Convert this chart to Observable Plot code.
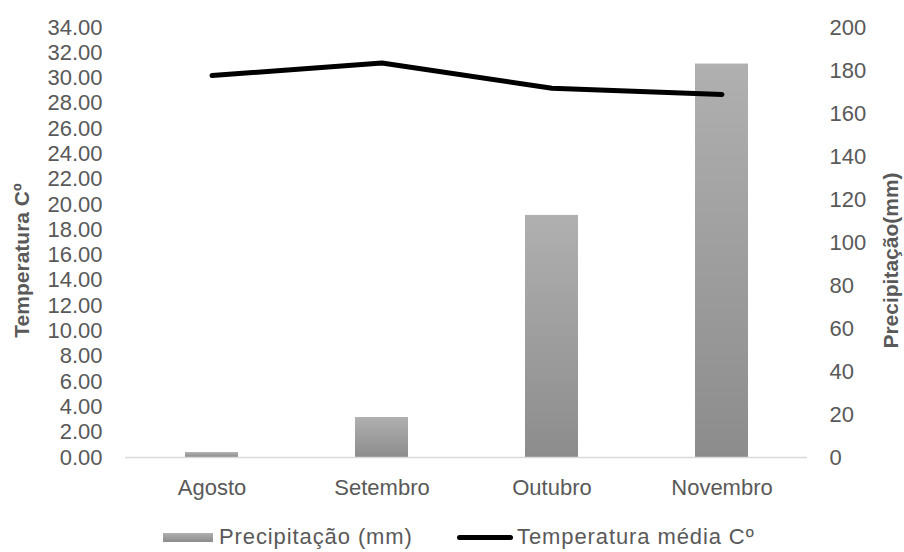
<!DOCTYPE html>
<html>
<head>
<meta charset="utf-8">
<script src="https://cdn.jsdelivr.net/npm/d3@7"></script>
<script src="https://cdn.jsdelivr.net/npm/@observablehq/plot@0.6"></script>
<style>
  body { margin: 0; background: #fff; font-family: "Liberation Sans", Arial, sans-serif; }
  #chart { position: relative; width: 904px; height: 552px; background: #fff; }
  #chart svg { display: block; }
  .legend-item { position: absolute; color: #595959; font-size: 22px; line-height: 22px; white-space: nowrap; letter-spacing: 0.9px; }
  .swatch { position: absolute; }
</style>
</head>
<body>
<div id="chart"></div>
<script>
// Monthly data
const months = ["Agosto", "Setembro", "Outubro", "Novembro"];
const precipitation = [2.3, 18.6, 112.6, 183.0];   // mm
const temperature = [30.2, 31.2, 29.2, 28.7];       // °C (média)

// Axis ticks
const tempTicks = [0, 2, 4, 6, 8, 10, 12, 14, 16, 18, 20, 22, 24, 26, 28, 30, 32, 34];
const precipTicks = [0, 20, 40, 60, 80, 100, 120, 140, 160, 180, 200];

const tempMax = 34;
const precipMax = 200;
// The plot's y scale is in mm; temperatures are mapped onto it for the left axis.
const toPrecip = t => t * precipMax / tempMax;

const rows = months.map((m, i) => ({month: m, precip: precipitation[i], temp: temperature[i]}));

const plot = Plot.plot({
  width: 904,
  height: 515,
  marginLeft: 125,
  marginRight: 97,
  marginTop: 27,
  marginBottom: 58,
  style: {fontFamily: "'Liberation Sans', Arial, sans-serif", fontSize: "22px", color: "#595959", background: "white", overflow: "visible"},
  x: {domain: months, type: "band", paddingInner: 0.69, paddingOuter: 0.345, axis: null},
  y: {domain: [0, precipMax], axis: null},
  marks: [
    Plot.barY(rows, {x: "month", y: "precip", fill: "url(#precipFill)"}),
    Plot.ruleY([0], {stroke: "#d9d9d9", strokeWidth: 1.5}),
    Plot.lineY(rows, {x: "month", y: d => toPrecip(d.temp), stroke: "black", strokeWidth: 5, strokeLinecap: "round", strokeLinejoin: "round"}),
    Plot.axisX({tickSize: 0, tickPadding: 22, label: null}),
    Plot.axisY(tempTicks.map(toPrecip), {anchor: "left", tickSize: 0, tickPadding: 23, label: null,
      tickFormat: v => (v * tempMax / precipMax).toFixed(2)}),
    Plot.axisY(precipTicks, {anchor: "right", tickSize: 0, tickPadding: 22, label: null}),
    Plot.text(["Temperatura Cº"], {text: d => d, frameAnchor: "left", textAnchor: "middle", lineAnchor: "middle",
      rotate: -90, dx: -103, dy: 18, fontWeight: "bold", fontSize: 21}),
    Plot.text(["Precipitação(mm)"], {text: d => d, frameAnchor: "right", textAnchor: "middle", lineAnchor: "middle",
      rotate: -90, dx: 84, dy: 18, fontWeight: "bold", fontSize: 21})
  ]
});

// Vertical gray gradient used for the precipitation bars
const svgNS = "http://www.w3.org/2000/svg";
const defs = document.createElementNS(svgNS, "defs");
defs.innerHTML = `<linearGradient id="precipFill" x1="0" y1="0" x2="0" y2="1">
  <stop offset="0" stop-color="#b0b0b0"/><stop offset="1" stop-color="#8c8c8c"/></linearGradient>`;
plot.insertBefore(defs, plot.firstChild);

const chart = document.getElementById("chart");
chart.appendChild(plot);

// Legend below the plot
const legend = [
  {label: "Precipitação (mm)", swatch: {left: 163, top: 533, width: 50, height: 9, background: "linear-gradient(#b0b0b0, #8c8c8c)"}, textLeft: 219},
  {label: "Temperatura média Cº", swatch: {left: 457, top: 535, width: 56, height: 5, background: "#000", borderRadius: "3px"}, textLeft: 517}
];
for (const item of legend) {
  const sw = document.createElement("div");
  sw.className = "swatch";
  Object.assign(sw.style, {
    left: item.swatch.left + "px", top: item.swatch.top + "px",
    width: item.swatch.width + "px", height: item.swatch.height + "px",
    background: item.swatch.background, borderRadius: item.swatch.borderRadius || "0"
  });
  chart.appendChild(sw);
  const tx = document.createElement("div");
  tx.className = "legend-item";
  tx.textContent = item.label;
  tx.style.left = item.textLeft + "px";
  tx.style.top = "526px";
  chart.appendChild(tx);
}
</script>
</body>
</html>
